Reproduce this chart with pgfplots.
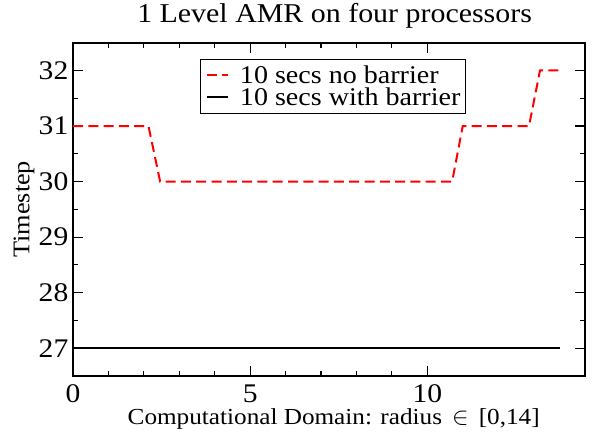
\documentclass[border=0pt]{standalone}
\usepackage{pgfplots}
\pgfplotsset{compat=1.18}
\usepackage{fontspec}
\setmainfont{Liberation Serif}[FakeStretch=1.1]
\begin{document}
\begin{tikzpicture}
\begin{axis}[
  scale only axis,
  width=512bp, height=333.3bp,
  xmin=0, xmax=14.45, ymin=26.5, ymax=32.5,
  xtick={0,5,10}, minor x tick num=4,
  ytick={27,28,29,30,31,32}, minor y tick num=1,
  tick align=inside,
  major tick length=10bp, minor tick length=5bp,
  every tick/.style={black, line width=1.1bp},
  axis line style={line width=1.6bp},
  /pgf/number format/assume math mode=true,
  tick label style={font=\fontsize{27}{27}\selectfont},
  xticklabel style={anchor=base, inner sep=0pt, yshift=-26bp},
  yticklabel style={anchor=east, inner sep=0pt, xshift=-4.5bp},
  title={1 Level AMR on four processors},
  title style={at={(axis description cs:0.5,1)}, anchor=base, yshift=14.7bp, xshift=5.6bp, font=\fontsize{27.3}{28}\selectfont},
  xlabel={Computational Domain: radius \,$\in$\, [0,14]},
  xlabel style={at={(axis description cs:0.5,0)}, anchor=base, inner sep=0pt, yshift=-48bp, xshift=4.7bp, font=\fontsize{23}{24}\selectfont},
  ylabel={\fontsize{24}{25}\selectfont Timestep},
  ylabel style={at={(axis description cs:-0.0957,0.5)}, anchor=center, inner sep=0pt},
  legend style={at={(axis description cs:0.248,0.952)}, anchor=north west,
    draw=black, line width=1bp, fill=white,
    font=\fontsize{25.6}{26}\selectfont,
    inner xsep=5.5bp, inner ysep=6bp,
    nodes={inner sep=0pt, text height=18bp, text depth=2bp},
    row sep=2bp, column sep=11bp},
  legend cell align=left,
  legend image code/.code={\draw[#1] (0bp,0bp) -- (21bp,0bp);},
]
\addplot[red, line width=2bp, dash pattern=on 10bp off 5.3bp] coordinates {
 (0,31) (2.13,31) (2.46,30) (10.70,30) (11.00,31) (12.87,31) (13.18,32) (13.75,32)
};
\addlegendentry{10 secs no barrier}
\addplot[black, line width=1.5bp] coordinates {
 (0,27) (13.75,27)
};
\addlegendentry{10 secs with barrier}
\end{axis}
\pgfresetboundingbox
\useasboundingbox (-73bp,-56bp) rectangle (523bp,376bp);
\end{tikzpicture}
\end{document}
